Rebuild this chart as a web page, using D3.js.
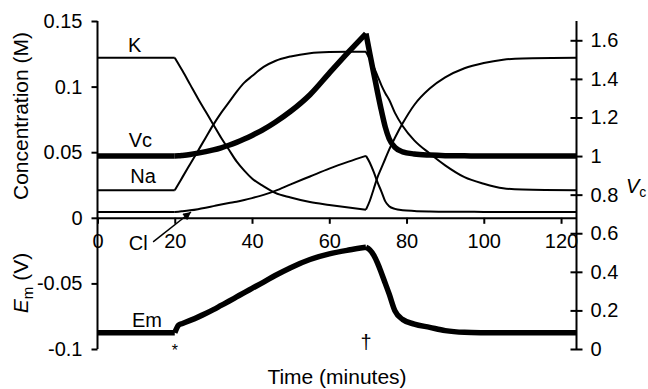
<!DOCTYPE html>
<meta charset="utf-8">
<script src="https://d3js.org/d3.v7.min.js"></script>
<style>
  body { margin: 0; background: #fff; }
  text { font-family: Arial, "Liberation Sans", sans-serif; fill: #000; }
</style>
<div id="chart"></div>
<script>

// time grid (minutes)
var time = [0, 20, 21, 22, 24, 26, 28, 30, 32, 34, 36, 38, 40, 43, 46, 50, 55, 60, 65, 69.5,
            70.5, 71.5, 72.5, 73.5, 74.5, 75.5, 77, 79, 82, 86, 90, 95, 100, 105, 110, 124];

// concentrations (M)
var kConc  = [0.122, 0.122, 0.117, 0.112, 0.1015, 0.091, 0.081, 0.071, 0.061, 0.052, 0.043, 0.036, 0.030, 0.024, 0.019, 0.0155, 0.012, 0.0098, 0.0078, 0.0062,
              0.013, 0.022, 0.031, 0.038, 0.045, 0.052, 0.061, 0.072, 0.086, 0.0985, 0.107, 0.114, 0.118, 0.1205, 0.1215, 0.122];
var naConc = [0.021, 0.021, 0.026, 0.031, 0.041, 0.051, 0.061, 0.071, 0.080, 0.088, 0.096, 0.103, 0.108, 0.115, 0.1195, 0.123, 0.1255, 0.1263, 0.1265, 0.1265,
              0.121, 0.115, 0.108, 0.101, 0.095, 0.090, 0.080, 0.070, 0.059, 0.049, 0.040, 0.031, 0.026, 0.0225, 0.0215, 0.021];
var clConc = [0.0045, 0.0045, 0.0047, 0.005, 0.0057, 0.0066, 0.0077, 0.0089, 0.0101, 0.0112, 0.0122, 0.0135, 0.015, 0.0175, 0.0205, 0.0255, 0.0315, 0.0375, 0.0428, 0.0472,
              0.042, 0.035, 0.027, 0.020, 0.0125, 0.0088, 0.0068, 0.0058, 0.0052, 0.0048, 0.0046, 0.0046, 0.0045, 0.0045, 0.0045, 0.0045];
// relative cell volume
var vc     = [1, 1, 1.001, 1.003, 1.008, 1.015, 1.023, 1.032, 1.043, 1.056, 1.071, 1.088, 1.107, 1.138, 1.175, 1.232, 1.318, 1.43, 1.54, 1.635,
              1.53, 1.43, 1.33, 1.235, 1.15, 1.09, 1.045, 1.022, 1.011, 1.005, 1.002, 1.001, 1, 1, 1, 1];
// membrane potential (V)
var em     = [-0.0877, -0.0877, -0.0818, -0.0806, -0.0782, -0.0757, -0.0730, -0.0700, -0.0668, -0.0636, -0.0603, -0.0570, -0.0538, -0.0490, -0.0440, -0.0380, -0.0318, -0.0275, -0.0246, -0.0225,
              -0.0245, -0.0285, -0.0345, -0.042, -0.050, -0.058, -0.071, -0.0775, -0.081, -0.0835, -0.086, -0.0873, -0.0876, -0.0877, -0.0877, -0.0877];

var events = [20, 69.5];           // "*" and dagger
var eventMarks = ["*", "\u2020"];

var xTicks = [0, 20, 40, 60, 80, 100, 120];
var leftTicks = [0.15, 0.1, 0.05, 0, -0.05, -0.1];
var leftLabels = ["0.15", "0.1", "0.05", "0", "-0.05", "-0.1"];
var rightTicks = [0, 0.2, 0.4, 0.6, 0.8, 1, 1.2, 1.4, 1.6];
var rightLabels = ["0", "0.2", "0.4", "0.6", "0.8", "1", "1.2", "1.4", "1.6"];

var W = 648, H = 389;

var svg = d3.select("#chart").append("svg")
  .attr("width", W).attr("height", H);

var x = d3.scaleLinear().domain([0, 124]).range([97.5, 576.5]);
var yL = d3.scaleLinear().domain([-0.1, 0.15]).range([349, 21]);
var yR = d3.scaleLinear().domain([0, 1.7]).range([349, 21]);

// split each series at the event times so corners stay sharp
function segments(vals) {
  var segs = [], cur = [];
  time.forEach(function(t, i) {
    cur.push([t, vals[i]]);
    if (events.indexOf(t) >= 0) { segs.push(cur); cur = [[t, vals[i]]]; }
  });
  segs.push(cur);
  return segs;
}

function drawSeries(vals, yScale, width) {
  var line = d3.line()
    .x(function(d) { return x(d[0]); })
    .y(function(d) { return yScale(d[1]); })
    .curve(d3.curveMonotoneX);
  svg.append("g").selectAll("path")
    .data(segments(vals))
    .enter().append("path")
      .attr("d", line)
      .attr("fill", "none")
      .attr("stroke", "#000")
      .attr("stroke-width", width)
      .attr("stroke-linejoin", "round");
}

drawSeries(kConc, yL, 2);
drawSeries(naConc, yL, 2);
drawSeries(clConc, yL, 2);
drawSeries(vc, yR, 5.5);
drawSeries(em, yL, 5.5);

// axes
var xAxis = svg.append("g")
  .attr("transform", "translate(0," + yL(0) + ")")
  .call(d3.axisBottom(x).tickValues(xTicks).tickSizeInner(6).tickSizeOuter(0).tickPadding(10));

var leftAxis = svg.append("g")
  .attr("transform", "translate(" + x(0) + ",0)")
  .call(d3.axisLeft(yL).tickValues(leftTicks).tickSizeInner(6).tickSizeOuter(0).tickPadding(9)
    .tickFormat(function(d, i) { return leftLabels[i]; }));

var rightAxis = svg.append("g")
  .attr("transform", "translate(" + x(124) + ",0)")
  .call(d3.axisRight(yR).tickValues(rightTicks).tickSizeInner(6).tickSizeOuter(0).tickPadding(8)
    .tickFormat(function(d, i) { return rightLabels[i]; }));
rightAxis.selectAll(".tick line").attr("x1", -6);

[xAxis, leftAxis, rightAxis].forEach(function(g) {
  g.selectAll("path, line").attr("stroke", "#000").attr("stroke-width", 2);
  g.selectAll("text").attr("font-size", 20).attr("font-family", "Arial, 'Liberation Sans', sans-serif").attr("fill", "#000");
});
leftAxis.select(".domain").attr("d", "M0," + yL(0.15) + "V" + yL(-0.1));
rightAxis.select(".domain").attr("d", "M0," + yR(1.7) + "V" + yR(0));

// series labels
var seriesLabels = [
  {name: "K",  t: 7.9, v: 0.1264},
  {name: "Vc", t: 8.1, v: 0.0539},
  {name: "Na", t: 8.5, v: 0.0265},
  {name: "Cl", t: 8.1, v: -0.0245},
  {name: "Em", t: 8.9, v: -0.083}
];
svg.append("g").selectAll("text")
  .data(seriesLabels)
  .enter().append("text")
    .attr("x", function(d) { return x(d.t); })
    .attr("y", function(d) { return yL(d.v); })
    .attr("font-size", 20)
    .text(function(d) { return d.name; });

// arrow pointing at the Cl line
svg.append("defs").append("marker")
  .attr("id", "head")
  .attr("viewBox", "0 0 10 10")
  .attr("refX", 10).attr("refY", 5)
  .attr("markerWidth", 10).attr("markerHeight", 8)
  .attr("markerUnits", "userSpaceOnUse")
  .attr("orient", "auto")
  .append("path").attr("d", "M0,0L10,5L0,10Z").attr("fill", "#000");
svg.append("line")
  .attr("x1", x(14.4)).attr("y1", yL(-0.0184))
  .attr("x2", x(24.2)).attr("y2", yL(0.0044))
  .attr("stroke", "#000").attr("stroke-width", 1.5)
  .attr("marker-end", "url(#head)");

// event marks
svg.append("g").selectAll("text")
  .data(events)
  .enter().append("text")
    .attr("x", function(d) { return x(d); })
    .attr("y", function(d, i) { return i === 0 ? 356 : 349; })
    .attr("text-anchor", "middle")
    .attr("font-size", function(d, i) { return i === 0 ? 16 : 20; })
    .text(function(d, i) { return eventMarks[i]; });

// axis titles
svg.append("text")
  .attr("x", 337).attr("y", 384)
  .attr("text-anchor", "middle")
  .attr("font-size", 21)
  .text("Time (minutes)");

svg.append("text")
  .attr("transform", "translate(28,116) rotate(-90)")
  .attr("text-anchor", "middle")
  .attr("font-size", 21)
  .text("Concentration (M)");

var emTitle = svg.append("text")
  .attr("transform", "translate(28,283) rotate(-90)")
  .attr("text-anchor", "middle")
  .attr("font-size", 21);
emTitle.append("tspan").attr("font-style", "italic").text("E");
emTitle.append("tspan").attr("font-size", 15).attr("dy", 5).text("m");
emTitle.append("tspan").attr("dy", -5).text(" (V)");

var vcTitle = svg.append("text")
  .attr("x", 626).attr("y", 193)
  .attr("font-size", 20);
vcTitle.append("tspan").attr("font-style", "italic").text("V");
vcTitle.append("tspan").attr("font-size", 14).attr("dy", 4).text("c");

</script>
